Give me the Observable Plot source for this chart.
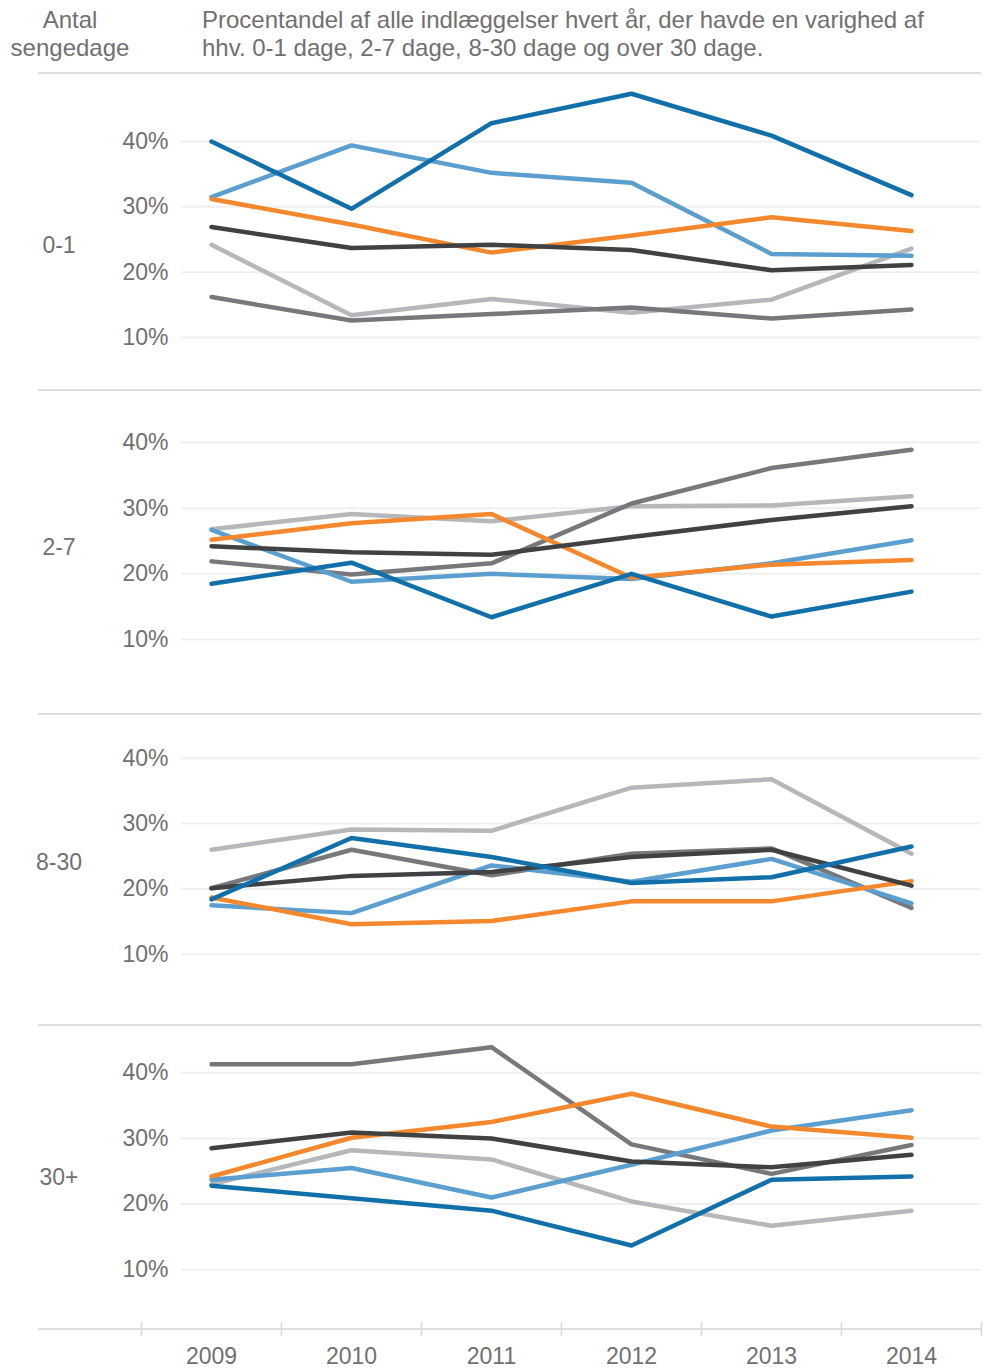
<!DOCTYPE html>
<html><head><meta charset="utf-8">
<script src="https://cdn.jsdelivr.net/npm/d3@7"></script>
<script src="https://cdn.jsdelivr.net/npm/@observablehq/plot@0.6"></script>
<style>
body{margin:0;background:#fff;}
#chart{position:relative;width:987px;height:1371px;font-family:"Liberation Sans",Arial,sans-serif;color:#707070;overflow:hidden;}
.hdr{position:absolute;font-size:24px;line-height:28px;white-space:nowrap;}
.sep{position:absolute;left:38px;width:943px;height:2px;background:#dedede;}
.panel{position:absolute;left:0;}
</style></head><body><div id="chart"></div>
<script>
// ---- data ----
const years = [2009, 2010, 2011, 2012, 2013, 2014];
const seriesNames = ["Lysegrå", "Mellemgrå", "Lyseblå", "Orange", "Sort", "Mørkeblå"];
const seriesColors = ["#b6b7ba", "#77787b", "#5a9fd0", "#f5882c", "#404142", "#1170aa"];
const panelLabels = ["0-1", "2-7", "8-30", "30+"];
const yTicks = [10, 20, 30, 40];

// 0-1 dage
const lysegraa_01  = [24.2, 13.4, 15.9, 13.8, 15.8, 23.6];
const mellemgraa_01 = [16.2, 12.6, 13.6, 14.6, 12.9, 14.3];
const lyseblaa_01  = [31.5, 39.4, 35.2, 33.7, 22.8, 22.5];
const orange_01    = [31.2, 27.3, 23.0, 25.6, 28.4, 26.3];
const sort_01      = [26.9, 23.7, 24.2, 23.4, 20.3, 21.1];
const moerkeblaa_01 = [40.0, 29.7, 42.8, 47.3, 40.9, 31.8];
// 2-7 dage
const lysegraa_27  = [26.8, 29.1, 28.0, 30.3, 30.4, 31.8];
const mellemgraa_27 = [21.9, 19.9, 21.6, 30.7, 36.1, 38.9];
const lyseblaa_27  = [26.7, 18.8, 20.0, 19.2, 21.6, 25.1];
const orange_27    = [25.2, 27.7, 29.1, 19.4, 21.4, 22.1];
const sort_27      = [24.2, 23.3, 22.9, 25.6, 28.2, 30.3];
const moerkeblaa_27 = [18.5, 21.7, 13.4, 20.0, 13.5, 17.3];
// 8-30 dage
const lysegraa_830  = [26.0, 29.1, 28.9, 35.5, 36.8, 25.4];
const mellemgraa_830 = [20.1, 26.0, 22.1, 25.4, 26.2, 17.1];
const lyseblaa_830  = [17.5, 16.3, 23.6, 21.1, 24.6, 17.8];
const orange_830    = [18.7, 14.6, 15.1, 18.1, 18.1, 21.2];
const sort_830      = [20.1, 22.0, 22.6, 24.9, 26.0, 20.5];
const moerkeblaa_830 = [18.4, 27.8, 24.9, 20.9, 21.8, 26.5];
// over 30 dage
const lysegraa_30  = [23.0, 28.2, 26.8, 20.4, 16.7, 19.0];
const mellemgraa_30 = [41.3, 41.3, 43.9, 29.1, 24.6, 29.0];
const lyseblaa_30  = [23.7, 25.5, 21.0, 26.0, 31.2, 34.3];
const orange_30    = [24.2, 30.1, 32.5, 36.8, 31.8, 30.1];
const sort_30      = [28.5, 30.9, 30.0, 26.5, 25.6, 27.5];
const moerkeblaa_30 = [22.8, 20.9, 19.0, 13.7, 23.7, 24.2];

const panelSeries = [
  [lysegraa_01, mellemgraa_01, lyseblaa_01, orange_01, sort_01, moerkeblaa_01],
  [lysegraa_27, mellemgraa_27, lyseblaa_27, orange_27, sort_27, moerkeblaa_27],
  [lysegraa_830, mellemgraa_830, lyseblaa_830, orange_830, sort_830, moerkeblaa_830],
  [lysegraa_30, mellemgraa_30, lyseblaa_30, orange_30, sort_30, moerkeblaa_30]
];

// ---- layout ----
const layout = {
  tops: [73, 390, 714, 1025],
  bottoms: [390, 714, 1025, 1329],
  yDomains: [[1.9, 50.4], [-1.4, 47.9], [-0.9, 46.7], [0.9, 47.2]],
  labelValue: 24,
  xAxisSpace: 42
};

const chart = document.getElementById("chart");
function addDiv(cls, css, html) {
  const d = document.createElement("div");
  d.className = cls;
  Object.assign(d.style, css);
  if (html != null) d.innerHTML = html;
  chart.appendChild(d);
  return d;
}

addDiv("hdr", {left: "0px", top: "6px", width: "140px", textAlign: "center"}, "Antal<br>sengedage");
addDiv("hdr", {left: "202px", top: "6px"}, "Procentandel af alle indlæggelser hvert år, der havde en varighed af<br>hhv. 0-1 dage, 2-7 dage, 8-30 dage og over 30 dage.");

const bounds = [2008.5, ...years.map(y => y + 0.5)];

panelLabels.forEach((label, pi) => {
  const last = pi === panelLabels.length - 1;
  const frameH = layout.bottoms[pi] - layout.tops[pi];
  const h = frameH + (last ? layout.xAxisSpace : 0);
  const data = [];
  seriesNames.forEach((s, si) => {
    years.forEach((yr, yi) => data.push({series: s, year: yr, value: panelSeries[pi][si][yi]}));
  });
  const svg = Plot.plot({
    width: 987,
    height: h,
    marginLeft: 181,
    marginRight: 7,
    marginTop: 0,
    marginBottom: last ? layout.xAxisSpace : 0,
    style: {background: "transparent", fontSize: "23px", fontFamily: "'Liberation Sans', Arial, sans-serif", color: "#707070", overflow: "visible"},
    x: {type: "linear", domain: [2008.5, 2014.5], range: [141, 981],
        ticks: last ? years : [], tickFormat: d => String(d), tickSize: 0, tickPadding: 18,
        label: null, axis: last ? "bottom" : null},
    y: {domain: layout.yDomains[pi], ticks: yTicks, tickFormat: d => d + "%", tickSize: 0, tickPadding: 13, label: null},
    color: {domain: seriesNames, range: seriesColors},
    marks: [
      Plot.ruleY(yTicks, {stroke: "#efefef", strokeWidth: 2}),
      Plot.line(data, {x: "year", y: "value", z: "series", stroke: "series", strokeWidth: 4.5,
                       strokeLinecap: "round", strokeLinejoin: "round"}),
      Plot.text([{label, v: layout.labelValue}], {text: "label", y: "v", frameAnchor: "left", dx: -122.5,
                       textAnchor: "middle", fontSize: 23, fill: "#707070"}),
      last ? Plot.ruleX(bounds, {stroke: "#d6d6d6", strokeWidth: 1.5, insetTop: frameH - 7, insetBottom: -7}) : null
    ]
  });
  svg.classList.add("panel");
  svg.style.top = layout.tops[pi] + "px";
  chart.appendChild(svg);
});

[73, 390, 714, 1025, 1329].forEach(y => addDiv("sep", {top: (y - 1) + "px"}));
</script></body></html>
